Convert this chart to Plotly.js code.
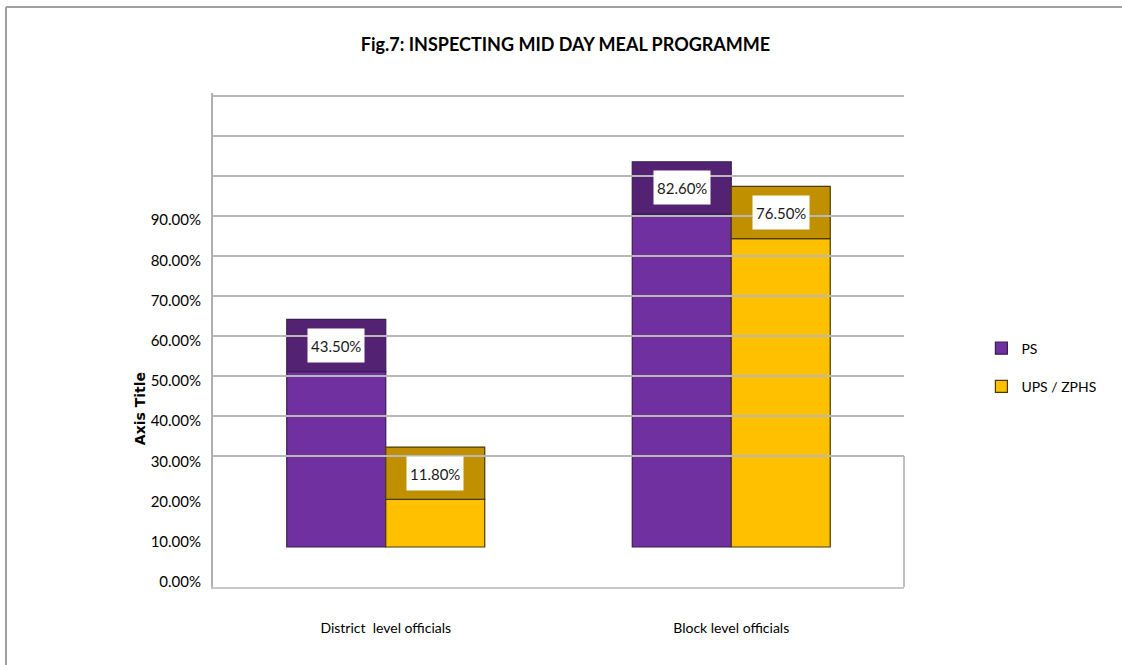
<!DOCTYPE html>
<html>
<head>
<meta charset="utf-8">
<script src="https://cdn.plot.ly/plotly-3.0.1.min.js"></script>
<style>
  html, body { margin: 0; padding: 0; background: #ffffff; }
  #chart { width: 1122px; height: 665px; }
</style>
</head>
<body>
<div id="chart"></div>
<script>
// ---- data ----
const categories = ['District\u00a0 level officials', 'Block level officials'];
const psValues = [43.5, 82.6];      // PS (%)
const upsValues = [11.8, 76.5];     // UPS / ZPHS (%)
const yTickVals = [0, 0.1, 0.2, 0.3, 0.4, 0.5, 0.6, 0.7, 0.8, 0.9];
const seriesNames = ['PS', 'UPS / ZPHS'];

// ---- style constants ----
const NARROW = 'Lato, "Open Sans", sans-serif';
const DEPTH = 13;                   // apparent depth of the 3D bar top (axis units)
const BARGAP = 0.427;
const groupW = 1 - BARGAP;

function frontTrace(vals, name, color, lineColor, group) {
  return {
    type: 'bar', x: categories, y: vals, name: name, yaxis: 'y2',
    offsetgroup: group, legendgroup: group,
    marker: { color: color, line: { color: lineColor, width: 1.2 } },
    hoverinfo: 'skip'
  };
}
function topTrace(vals, color, lineColor, group) {
  return {
    type: 'bar', x: categories, y: vals.map(() => DEPTH), base: vals, yaxis: 'y2',
    offsetgroup: group, legendgroup: group, showlegend: false,
    marker: { color: color, line: { color: lineColor, width: 1.2 } },
    hoverinfo: 'skip'
  };
}

const traces = [
  // carrier for the visible percentage axis
  { type: 'scatter', x: categories, y: [null, null], yaxis: 'y', mode: 'markers', showlegend: false, hoverinfo: 'skip' },
  frontTrace(psValues, seriesNames[0], '#7030A0', '#3a1f52', 'ps'),
  topTrace(psValues, '#532273', '#3a1f52', 'ps'),
  frontTrace(upsValues, seriesNames[1], '#FFC000', '#4a3a08', 'ups'),
  topTrace(upsValues, '#C09000', '#4a3a08', 'ups'),
  // carrier for the gridline axis
  { type: 'scatter', x: categories, y: [null, null], yaxis: 'y3', mode: 'markers', showlegend: false, hoverinfo: 'skip' }
];

// data labels in white boxes on the bar tops
const annotations = [];
[psValues, upsValues].forEach((vals, s) => {
  const off = (s === 0 ? -1 : 1) * groupW / 4;
  vals.forEach((v, i) => {
    annotations.push({
      x: i + off, y: v + DEPTH / 2, xref: 'x', yref: 'y2',
      text: v.toFixed(2) + '%', showarrow: false,
      bgcolor: '#ffffff', borderpad: 3, height: 27,
      font: { family: NARROW, size: 15, color: '#1a1a1a' }
    });
  });
});
annotations.push({
  x: -0.1056, y: 0.36, xref: 'paper', yref: 'paper', xanchor: 'center', yanchor: 'middle',
  textangle: -90, text: '<b>Axis Title</b>', showarrow: false,
  font: { family: '"DejaVu Sans", Verdana, sans-serif', size: 14, color: '#000000' }
});

const PLOT_TOP = 93, PLOT_BOT = 587, BAR_BASE = 547, PX_PER_UNIT = 4.03;
const GRID_TOP = 96, GRID_BOT = 456, GRID_STEP = 40;
const plotH = PLOT_BOT - PLOT_TOP;
const gridPad = 2 / GRID_STEP;
const gridDomain = [(PLOT_BOT - GRID_BOT - 2) / plotH, (PLOT_BOT - GRID_TOP + 2) / plotH];

const layout = {
  width: 1122, height: 665,
  paper_bgcolor: '#ffffff', plot_bgcolor: 'rgba(0,0,0,0)',
  margin: { l: 213, r: 218, t: PLOT_TOP, b: 665 - PLOT_BOT },
  title: {
    text: '<b>Fig.7: INSPECTING MID DAY MEAL PROGRAMME</b>',
    x: 0.504, xref: 'container', xanchor: 'center',
    y: 1 - 45 / 665, yref: 'container', yanchor: 'middle',
    font: { family: NARROW, size: 18, color: '#000000' }
  },
  barmode: 'group', bargap: BARGAP, bargroupgap: 0,
  xaxis: {
    type: 'category', range: [-0.5, 1.5], fixedrange: true,
    showgrid: false, zeroline: false,
    showline: true, linecolor: '#c8c8c8', linewidth: 2,
    ticks: '', ticklabelstandoff: 27,
    tickfont: { family: NARROW, size: 14, color: '#000000' }
  },
  yaxis: {
    range: [0, plotH / 402], tickvals: yTickVals, tickformat: '.2%',
    showgrid: false, zeroline: false,
    showline: true, linecolor: '#b0b0b0', linewidth: 2,
    ticks: '', ticklabelstandoff: 7, ticklabelshift: -5,
    tickfont: { family: NARROW, size: 15, color: '#000000' }
  },
  yaxis2: {
    overlaying: 'y', side: 'left',
    range: [-(PLOT_BOT - BAR_BASE) / PX_PER_UNIT, (BAR_BASE - PLOT_TOP) / PX_PER_UNIT],
    visible: false, showgrid: false, zeroline: false
  },
  yaxis3: {
    domain: gridDomain, anchor: 'x',
    range: [-gridPad, 9 + gridPad], tickvals: [0, 1, 2, 3, 4, 5, 6, 7, 8, 9], showticklabels: false, ticks: '',
    showgrid: true, gridcolor: '#b8b8b8', gridwidth: 2, zeroline: false, showline: false
  },
  shapes: [
    { type: 'line', xref: 'paper', yref: 'paper', x0: 1, x1: 1, y0: 0, y1: (PLOT_BOT - GRID_BOT) / plotH,
      line: { color: '#c0c0c0', width: 2 }, layer: 'below' },
    // outer chart frame (top and left edges)
    { type: 'line', xref: 'paper', yref: 'paper',
      x0: (6 - 213) / 691, x1: (1122 - 213) / 691, y0: (PLOT_BOT - 7) / plotH, y1: (PLOT_BOT - 7) / plotH,
      line: { color: '#a0a0a0', width: 2 } },
    { type: 'line', xref: 'paper', yref: 'paper',
      x0: (6 - 213) / 691, x1: (6 - 213) / 691, y0: (PLOT_BOT - 7) / plotH, y1: (PLOT_BOT - 665) / plotH,
      line: { color: '#a0a0a0', width: 2 } }
  ],
  legend: {
    x: 1.112, xanchor: 'left', y: 0.515, yanchor: 'top',
    traceorder: 'grouped', tracegroupgap: 17,
    font: { family: NARROW, size: 14, color: '#000000' },
    bgcolor: 'rgba(0,0,0,0)'
  },
  annotations: annotations,
  showlegend: true
};

Plotly.newPlot('chart', traces, layout, { displayModeBar: false, staticPlot: true });
</script>
</body>
</html>
